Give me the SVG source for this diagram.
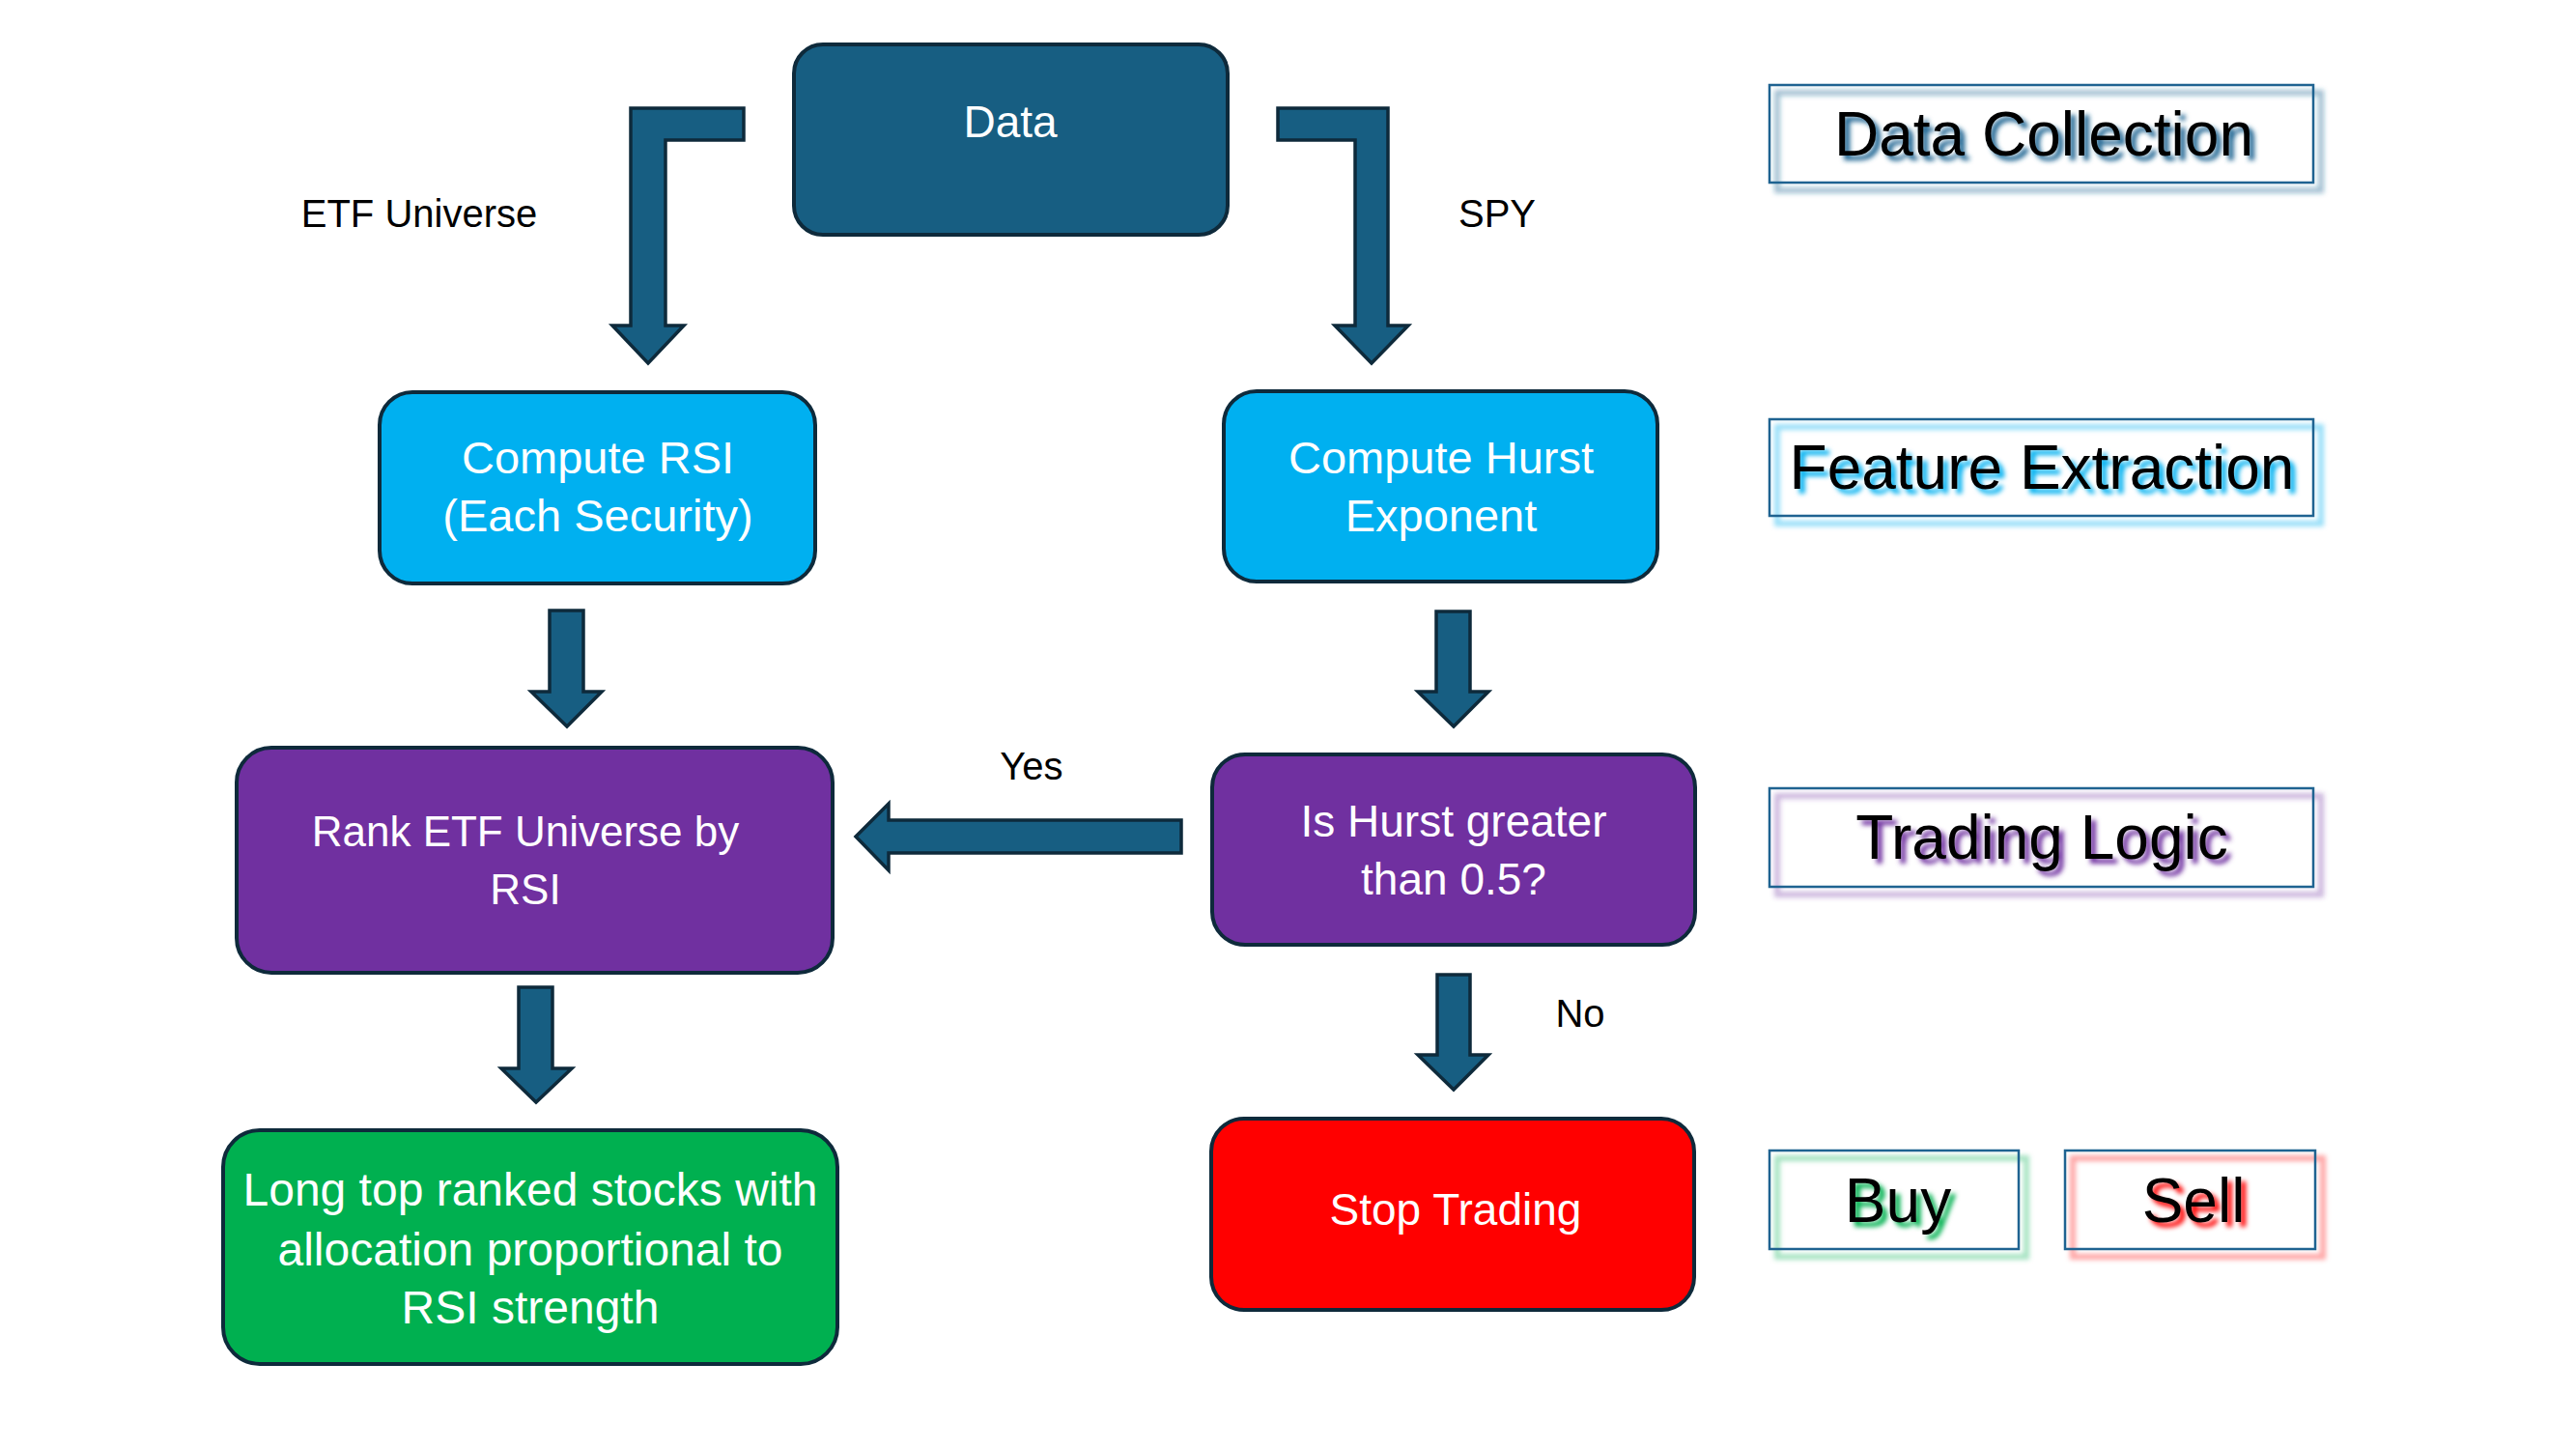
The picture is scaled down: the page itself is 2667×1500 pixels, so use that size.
<svg xmlns="http://www.w3.org/2000/svg" width="2667" height="1500" viewBox="0 0 2667 1500">
<style>
.box{stroke:#0E2A3B;stroke-width:4}
.arrow{fill:#175E82;stroke:#0E2A3B;stroke-width:3.5;stroke-linejoin:miter}
.nt{font-family:"Liberation Sans",Arial,sans-serif;fill:#FFFFFF;text-anchor:middle}
.lab{font-family:"Liberation Sans",Arial,sans-serif;fill:#000000;font-size:40px;text-anchor:middle}
.leg{font-family:"Liberation Sans",Arial,sans-serif;font-size:64px;text-anchor:middle;fill:#000000}
.legbox{fill:none;stroke:#1F6391;stroke-width:2.5}
.sh{filter:url(#blur)}
</style>
<defs>
<filter id="blur" x="-10%" y="-30%" width="120%" height="160%"><feGaussianBlur stdDeviation="2.5"/></filter>
</defs>
<rect width="2667" height="1500" fill="#FFFFFF"/>

<g id="connectors">
<polygon class="arrow" points="770,112 653,112 653,337 634,337 671,376 708,337 689,337 689,145 770,145"/>
<polygon class="arrow" points="1323,112 1437,112 1437,337 1458,337 1420,376 1382,337 1403,337 1403,145 1323,145"/>
<polygon class="arrow" points="569,632 604,632 604,716 623,716 587,752 550,716 569,716"/>
<polygon class="arrow" points="1487,633 1522,633 1522,716 1541,716 1505,752 1468,716 1487,716"/>
<polygon class="arrow" points="537,1022 572,1022 572,1106 592,1106 555,1141 519,1106 537,1106"/>
<polygon class="arrow" points="1488,1009 1522,1009 1522,1092 1541,1092 1505,1128 1468,1092 1488,1092"/>
<polygon class="arrow" points="1223,849 1223,883 920,883 920,901 886,866 920,832 920,849"/>
<text class="lab" x="434" y="235">ETF Universe</text>
<text class="lab" x="1550" y="235">SPY</text>
<text class="lab" x="1068" y="807">Yes</text>
<text class="lab" x="1636" y="1063">No</text>
</g>

<g id="node-data">
<rect class="box" x="822" y="46" width="449" height="197" rx="30" fill="#175E82"/>
<text class="nt" x="1046" y="142" font-size="46">Data</text>
</g>

<g id="node-rsi">
<rect class="box" x="393" y="406" width="451" height="198" rx="34" fill="#00B0F0"/>
<text class="nt" x="619" y="490" font-size="47">Compute RSI</text>
<text class="nt" x="619" y="550" font-size="47">(Each Security)</text>
</g>

<g id="node-hurst">
<rect class="box" x="1267" y="405" width="449" height="197" rx="34" fill="#00B0F0"/>
<text class="nt" x="1492" y="490" font-size="47">Compute Hurst</text>
<text class="nt" x="1492" y="550" font-size="47">Exponent</text>
</g>

<g id="node-rank">
<rect class="box" x="245" y="774" width="617" height="233" rx="36" fill="#7030A0"/>
<text class="nt" x="544" y="876" font-size="44">Rank ETF Universe by</text>
<text class="nt" x="544" y="936" font-size="44">RSI</text>
</g>

<g id="node-decision">
<rect class="box" x="1255" y="781" width="500" height="197" rx="34" fill="#7030A0"/>
<text class="nt" x="1505" y="866" font-size="46">Is Hurst greater</text>
<text class="nt" x="1505" y="926" font-size="46">than 0.5?</text>
</g>

<g id="node-long">
<rect class="box" x="231" y="1170" width="636" height="242" rx="38" fill="#00B050"/>
<text class="nt" x="549" y="1248" font-size="48">Long top ranked stocks with</text>
<text class="nt" x="549" y="1310" font-size="48">allocation proportional to</text>
<text class="nt" x="549" y="1370" font-size="48">RSI strength</text>
</g>

<g id="node-stop">
<rect class="box" x="1254" y="1158" width="500" height="198" rx="34" fill="#FF0000"/>
<text class="nt" x="1507" y="1268" font-size="46">Stop Trading</text>
</g>

<g id="legend-data-collection">
<rect class="sh" x="1840" y="96" width="563" height="101" fill="none" stroke="#1F6391" stroke-opacity="0.4" stroke-width="6"/>
<text class="leg sh" x="2121" y="166" style="fill:#1F6391">Data Collection</text>
<rect class="legbox" x="1832" y="88" width="563" height="101"/>
<text class="leg" x="2116" y="161">Data Collection</text>
</g>

<g id="legend-feature-extraction">
<rect class="sh" x="1840" y="442" width="563" height="100" fill="none" stroke="#00B0F0" stroke-opacity="0.4" stroke-width="6"/>
<text class="leg sh" x="2119" y="511" style="fill:#00B0F0">Feature Extraction</text>
<rect class="legbox" x="1832" y="434" width="563" height="100"/>
<text class="leg" x="2114" y="506">Feature Extraction</text>
</g>

<g id="legend-trading-logic">
<rect class="sh" x="1840" y="824" width="563" height="102" fill="none" stroke="#7030A0" stroke-opacity="0.35" stroke-width="6"/>
<text class="leg sh" x="2119" y="894" style="fill:#7030A0">Trading Logic</text>
<rect class="legbox" x="1832" y="816" width="563" height="102"/>
<text class="leg" x="2114" y="889">Trading Logic</text>
</g>

<g id="legend-buy">
<rect class="sh" x="1840" y="1199" width="258" height="102" fill="none" stroke="#00B050" stroke-opacity="0.35" stroke-width="6"/>
<text class="leg sh" x="1970" y="1270" style="fill:#00B050">Buy</text>
<rect class="legbox" x="1832" y="1191" width="258" height="102"/>
<text class="leg" x="1965" y="1265">Buy</text>
</g>

<g id="legend-sell">
<rect class="sh" x="2146" y="1199" width="259" height="102" fill="none" stroke="#FF0000" stroke-opacity="0.35" stroke-width="6"/>
<text class="leg sh" x="2276" y="1270" style="fill:#FF0000">Sell</text>
<rect class="legbox" x="2138" y="1191" width="259" height="102"/>
<text class="leg" x="2271" y="1265">Sell</text>
</g>
</svg>
